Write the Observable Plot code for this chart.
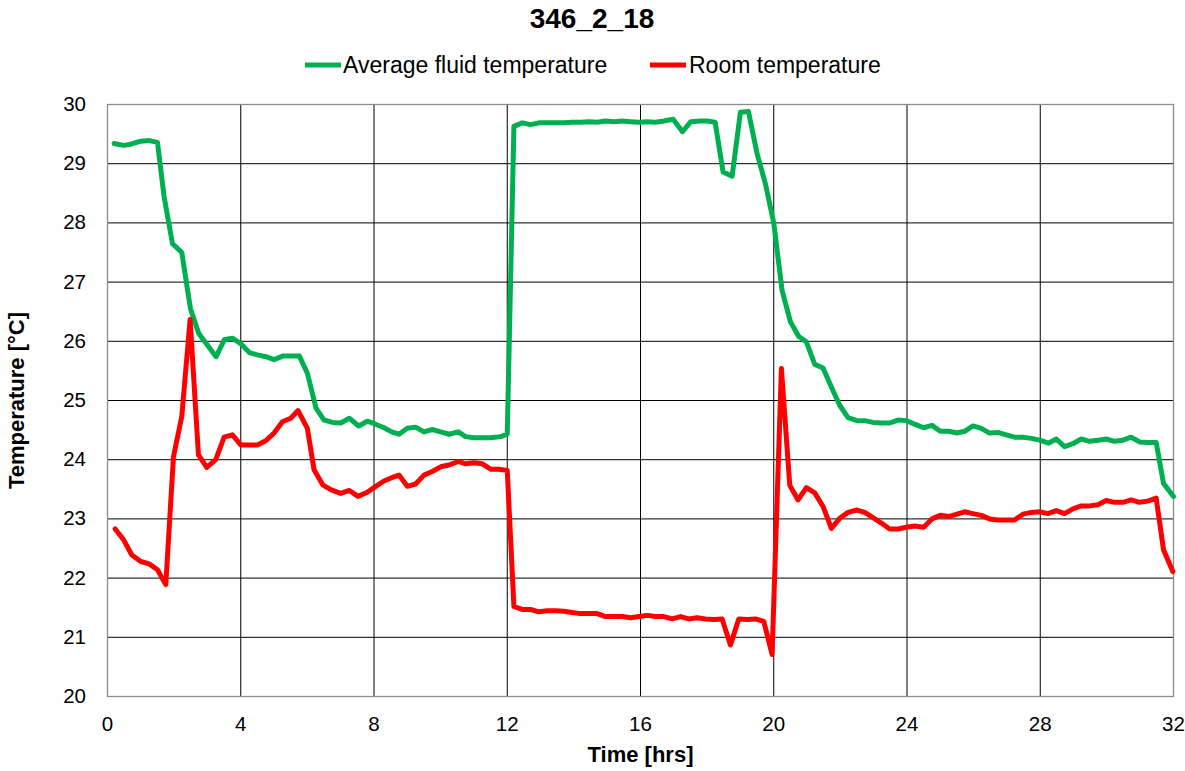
<!DOCTYPE html>
<html><head><meta charset="utf-8">
<script src="https://cdn.jsdelivr.net/npm/d3@7"></script>
<script src="https://cdn.jsdelivr.net/npm/@observablehq/plot@0.6"></script>
<style>
body{margin:0;background:#fff;font-family:"Liberation Sans",Arial,sans-serif;}
#header{display:block}
#chart svg{display:block}
</style></head><body>
<svg id="header" width="1185" height="85"></svg>
<div id="chart"></div>
<script>
const chartTitle = "346_2_18";
const seriesNames = ["Average fluid temperature", "Room temperature"];
const seriesColors = ["#00B050", "#FF0000"];
const xLabel = "Time [hrs]";
const yLabel = "Temperature [°C]";
const xTicks = [0, 4, 8, 12, 16, 20, 24, 28, 32];
const yTicks = [20, 21, 22, 23, 24, 25, 26, 27, 28, 29, 30];

const fluidHours = [0.2,0.48,0.7,1.0,1.25,1.5,1.7,1.95,2.23,2.49,2.74,3.26,3.51,3.76,4.0,4.26,4.5,4.76,5.0,5.26,5.5,5.76,6.0,6.26,6.5,6.76,7.0,7.26,7.54,7.8,8.05,8.3,8.53,8.75,9.0,9.25,9.5,9.75,10.0,10.25,10.53,10.75,11.0,11.25,11.5,11.8,12.0,12.2,12.45,12.7,12.95,13.2,13.45,13.7,13.95,14.2,14.45,14.7,14.95,15.2,15.45,15.7,15.95,16.2,16.45,16.7,16.98,17.26,17.51,17.78,18.0,18.24,18.48,18.75,19.0,19.24,19.5,19.75,20.0,20.25,20.5,20.75,20.98,21.23,21.48,21.73,21.98,22.23,22.5,22.73,22.98,23.23,23.48,23.73,23.98,24.23,24.5,24.75,25.0,25.25,25.5,25.73,25.98,26.23,26.48,26.73,26.98,27.23,27.48,27.73,27.98,28.25,28.48,28.73,28.98,29.23,29.48,29.73,29.98,30.23,30.48,30.73,30.98,31.23,31.48,31.7,32.0];
const fluidTemp = [29.34,29.31,29.33,29.38,29.39,29.36,28.44,27.65,27.5,26.55,26.13,25.74,26.03,26.05,25.96,25.81,25.77,25.74,25.69,25.75,25.75,25.75,25.46,24.87,24.67,24.63,24.62,24.70,24.57,24.65,24.60,24.54,24.47,24.43,24.53,24.55,24.47,24.51,24.47,24.43,24.47,24.39,24.37,24.37,24.37,24.39,24.43,29.63,29.69,29.66,29.69,29.69,29.69,29.69,29.70,29.70,29.71,29.70,29.72,29.71,29.72,29.71,29.70,29.71,29.70,29.72,29.75,29.54,29.71,29.72,29.72,29.70,28.86,28.79,29.87,29.88,29.17,28.66,28.0,26.86,26.33,26.08,25.99,25.61,25.55,25.23,24.92,24.71,24.66,24.66,24.63,24.62,24.62,24.67,24.66,24.60,24.54,24.58,24.48,24.48,24.45,24.48,24.57,24.53,24.45,24.46,24.42,24.38,24.38,24.36,24.33,24.28,24.35,24.22,24.27,24.35,24.31,24.33,24.35,24.31,24.33,24.38,24.30,24.29,24.29,23.6,23.38];

const roomHours = [0.23,0.48,0.73,1.0,1.25,1.5,1.75,1.98,2.23,2.48,2.73,2.98,3.25,3.5,3.75,4.0,4.25,4.5,4.75,5.0,5.25,5.5,5.72,6.0,6.2,6.47,6.72,7.0,7.26,7.52,7.8,8.05,8.3,8.55,8.75,9.0,9.25,9.5,9.75,10.0,10.25,10.53,10.75,11.0,11.25,11.5,11.75,12.0,12.2,12.45,12.7,12.95,13.2,13.45,13.7,13.95,14.2,14.45,14.7,14.95,15.2,15.45,15.7,15.95,16.2,16.45,16.7,16.95,17.2,17.45,17.7,17.95,18.2,18.45,18.7,18.95,19.2,19.45,19.7,19.95,20.23,20.48,20.73,20.98,21.23,21.48,21.73,21.98,22.23,22.5,22.73,22.98,23.23,23.48,23.73,23.98,24.23,24.5,24.75,25.0,25.25,25.5,25.73,25.98,26.23,26.48,26.73,26.98,27.23,27.48,27.73,27.98,28.23,28.48,28.73,28.98,29.23,29.48,29.73,29.98,30.23,30.48,30.73,30.98,31.23,31.48,31.7,31.98];
const roomTemp = [22.83,22.65,22.39,22.28,22.24,22.14,21.89,24.05,24.73,26.37,24.08,23.87,24.0,24.38,24.42,24.25,24.25,24.25,24.32,24.45,24.64,24.70,24.83,24.53,23.83,23.57,23.49,23.43,23.48,23.38,23.45,23.55,23.64,23.70,23.74,23.55,23.59,23.74,23.80,23.88,23.91,23.97,23.93,23.95,23.93,23.84,23.84,23.82,21.52,21.47,21.47,21.43,21.45,21.45,21.44,21.42,21.40,21.40,21.40,21.35,21.35,21.35,21.33,21.35,21.37,21.35,21.35,21.31,21.35,21.31,21.33,21.31,21.30,21.31,20.87,21.31,21.30,21.31,21.27,20.71,25.54,23.57,23.32,23.53,23.44,23.21,22.84,23.01,23.11,23.15,23.11,23.02,22.93,22.83,22.83,22.86,22.88,22.86,23.0,23.06,23.04,23.08,23.12,23.09,23.06,23.0,22.98,22.98,22.98,23.08,23.11,23.12,23.09,23.14,23.09,23.17,23.22,23.22,23.24,23.31,23.28,23.28,23.32,23.28,23.30,23.35,22.48,22.11];

// Build tables for Plot
const fluid = fluidHours.map((h, i) => ({hours: h, temp: fluidTemp[i]}));
const room = roomHours.map((h, i) => ({hours: h, temp: roomTemp[i]}));

// Header: title + legend
const header = d3.select("#header");
header.append("text")
  .attr("x", 592).attr("y", 28.3)
  .attr("text-anchor", "middle")
  .attr("font-family", "Liberation Sans, Arial, sans-serif")
  .attr("font-size", 28).attr("font-weight", "bold")
  .attr("fill", "#000")
  .text(chartTitle);
const legendPos = [{lx: 305, tx: 343}, {lx: 650, tx: 689}];
seriesNames.forEach((name, i) => {
  const p = legendPos[i];
  header.append("line")
    .attr("x1", p.lx).attr("x2", p.lx + 36)
    .attr("y1", 65).attr("y2", 65)
    .attr("stroke", seriesColors[i]).attr("stroke-width", 5);
  header.append("text")
    .attr("x", p.tx).attr("y", 73.3)
    .attr("font-family", "Liberation Sans, Arial, sans-serif")
    .attr("font-size", 23).attr("fill", "#000")
    .text(name);
});

const chart = Plot.plot({
  width: 1185,
  height: 686,
  marginTop: 19,
  marginBottom: 75,
  marginLeft: 107,
  marginRight: 12,
  style: {fontFamily: "Liberation Sans, Arial, sans-serif", fontSize: "20.5px", color: "#000", background: "#fff", overflow: "visible"},
  x: {domain: [0, 32]},
  y: {domain: [20, 30]},
  marks: [
    Plot.gridX(xTicks.slice(1, -1), {stroke: "#000", strokeOpacity: 1, strokeWidth: 1}),
    Plot.gridY(yTicks.slice(1, -1), {stroke: "#000", strokeOpacity: 1, strokeWidth: 1}),
    Plot.frame({stroke: "#8c8c8c", strokeWidth: 1.3}),
    Plot.line(fluid, {x: "hours", y: "temp", stroke: seriesColors[0], strokeWidth: 5, strokeLinejoin: "round", strokeLinecap: "round"}),
    Plot.line(room, {x: "hours", y: "temp", stroke: seriesColors[1], strokeWidth: 5, strokeLinejoin: "round", strokeLinecap: "round"}),
    Plot.axisX({ticks: xTicks, tickSize: 0, tickPadding: 20, label: null, fontSize: 20.5}),
    Plot.axisY({ticks: yTicks, tickSize: 0, tickPadding: 21.5, label: null, fontSize: 20.5}),
    Plot.text([xLabel], {text: d => d, frameAnchor: "bottom", textAnchor: "middle", lineAnchor: "bottom", dy: 65.7, fontWeight: "bold", fontSize: 22, fill: "#000"}),
    Plot.text([yLabel], {text: d => d, frameAnchor: "left", textAnchor: "middle", rotate: -90, lineAnchor: "bottom", dx: -83.3, fontWeight: "bold", fontSize: 22, fill: "#000"})
  ]
});
document.getElementById("chart").appendChild(chart);
</script>
</body></html>
